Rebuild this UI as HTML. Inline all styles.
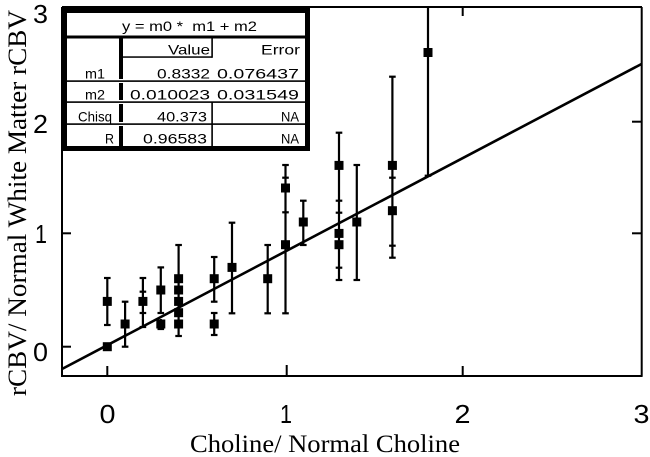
<!DOCTYPE html>
<html>
<head>
<meta charset="utf-8">
<style>
html,body{margin:0;padding:0;background:#fff;}
svg{display:block;}
.sans{font-family:"Liberation Sans",Arial,sans-serif;fill:#000;}
.serif{font-family:"Liberation Serif","Times New Roman",serif;fill:#000;}
</style>
</head>
<body>
<svg width="650" height="457" viewBox="0 0 650 457" xmlns="http://www.w3.org/2000/svg">
<rect width="650" height="457" fill="#fff"/>
<g stroke="#000" stroke-width="2" fill="none">
<line x1="62" y1="7" x2="642" y2="7"/>
<line x1="62" y1="7" x2="62" y2="376.5"/>
<line x1="61" y1="376" x2="642.5" y2="376"/>
<line x1="641.7" y1="7" x2="641.7" y2="376.5"/>
<line x1="62" y1="346.7" x2="71" y2="346.7"/>
<line x1="62" y1="233.3" x2="71" y2="233.3"/>
<line x1="632" y1="233.3" x2="641" y2="233.3"/>
<line x1="632" y1="121.7" x2="641" y2="121.7"/>
<line x1="107.3" y1="366" x2="107.3" y2="376"/>
<line x1="286.7" y1="365" x2="286.7" y2="376"/>
<line x1="462.7" y1="366" x2="462.7" y2="376"/>
<line x1="462.7" y1="7" x2="462.7" y2="16"/>
</g>
<line x1="62" y1="369" x2="641.5" y2="64" stroke="#000" stroke-width="2.6"/>
<g stroke="#000" stroke-width="2.2">
<line x1="107.3" y1="278" x2="107.3" y2="325"/><line x1="104" y1="278" x2="110.6" y2="278"/><line x1="104" y1="325" x2="110.6" y2="325"/>
<line x1="125.1" y1="301.7" x2="125.1" y2="346.7"/><line x1="121.8" y1="301.7" x2="128.4" y2="301.7"/><line x1="121.8" y1="346.7" x2="128.4" y2="346.7"/>
<line x1="142.9" y1="278" x2="142.9" y2="327"/><line x1="139.6" y1="278" x2="146.2" y2="278"/><line x1="139.6" y1="327" x2="146.2" y2="327"/><line x1="139.6" y1="291.7" x2="146.2" y2="291.7"/><line x1="139.6" y1="313" x2="146.2" y2="313"/>
<line x1="160.8" y1="267.4" x2="160.8" y2="313"/><line x1="157.5" y1="267.4" x2="164.1" y2="267.4"/><line x1="157.5" y1="313" x2="164.1" y2="313"/>
<line x1="160.8" y1="319" x2="160.8" y2="329"/><line x1="157.5" y1="329" x2="164.1" y2="329"/>
<line x1="178.6" y1="245" x2="178.6" y2="336"/><line x1="175.3" y1="245" x2="181.9" y2="245"/><line x1="175.3" y1="336" x2="181.9" y2="336"/>
<line x1="214.2" y1="257" x2="214.2" y2="301.7"/><line x1="210.9" y1="257" x2="217.5" y2="257"/><line x1="210.9" y1="301.7" x2="217.5" y2="301.7"/>
<line x1="214.2" y1="313" x2="214.2" y2="335"/><line x1="210.9" y1="313" x2="217.5" y2="313"/><line x1="210.9" y1="335" x2="217.5" y2="335"/>
<line x1="232" y1="222.7" x2="232" y2="313.3"/><line x1="228.7" y1="222.7" x2="235.3" y2="222.7"/><line x1="228.7" y1="313.3" x2="235.3" y2="313.3"/>
<line x1="267.7" y1="245" x2="267.7" y2="313.3"/><line x1="264.4" y1="245" x2="271" y2="245"/><line x1="264.4" y1="313.3" x2="271" y2="313.3"/>
<line x1="285.5" y1="165" x2="285.5" y2="313.3"/><line x1="282.2" y1="165" x2="288.8" y2="165"/><line x1="282.2" y1="313.3" x2="288.8" y2="313.3"/><line x1="282.2" y1="177.7" x2="288.8" y2="177.7"/><line x1="282.2" y1="212.3" x2="288.8" y2="212.3"/>
<line x1="303.3" y1="200.7" x2="303.3" y2="245"/><line x1="300" y1="200.7" x2="306.6" y2="200.7"/><line x1="300" y1="245" x2="306.6" y2="245"/>
<line x1="339" y1="132.7" x2="339" y2="280"/><line x1="335.7" y1="132.7" x2="342.3" y2="132.7"/><line x1="335.7" y1="280" x2="342.3" y2="280"/><line x1="335.7" y1="200.7" x2="342.3" y2="200.7"/><line x1="335.7" y1="212.7" x2="342.3" y2="212.7"/><line x1="335.7" y1="267.7" x2="342.3" y2="267.7"/>
<line x1="356.8" y1="165" x2="356.8" y2="280"/><line x1="353.5" y1="165" x2="360.1" y2="165"/><line x1="353.5" y1="280" x2="360.1" y2="280"/>
<line x1="392.4" y1="76.7" x2="392.4" y2="257.7"/><line x1="389.1" y1="76.7" x2="395.7" y2="76.7"/><line x1="389.1" y1="257.7" x2="395.7" y2="257.7"/><line x1="389.1" y1="177.7" x2="395.7" y2="177.7"/><line x1="389.1" y1="245.7" x2="395.7" y2="245.7"/>
<line x1="428" y1="7" x2="428" y2="175.7"/><line x1="424.7" y1="175.7" x2="431.3" y2="175.7"/>
</g>
<g fill="#000">
<rect x="102.8" y="342.2" width="9" height="9"/>
<rect x="102.8" y="296.9" width="9" height="9"/>
<rect x="120.6" y="319.5" width="9" height="9"/>
<rect x="138.4" y="296.9" width="9" height="9"/>
<rect x="156.3" y="285.5" width="9" height="9"/>
<rect x="156.3" y="319.5" width="9" height="9"/>
<rect x="174.1" y="274.2" width="9" height="9"/>
<rect x="174.1" y="285.5" width="9" height="9"/>
<rect x="174.1" y="296.9" width="9" height="9"/>
<rect x="174.1" y="308.2" width="9" height="9"/>
<rect x="174.1" y="319.5" width="9" height="9"/>
<rect x="209.7" y="274.2" width="9" height="9"/>
<rect x="209.7" y="319.5" width="9" height="9"/>
<rect x="227.5" y="262.9" width="9" height="9"/>
<rect x="263.2" y="274.2" width="9" height="9"/>
<rect x="281" y="240.2" width="9" height="9"/>
<rect x="281" y="183.5" width="9" height="9"/>
<rect x="298.8" y="217.5" width="9" height="9"/>
<rect x="334.5" y="160.9" width="9" height="9"/>
<rect x="334.5" y="228.9" width="9" height="9"/>
<rect x="334.5" y="240.2" width="9" height="9"/>
<rect x="352.3" y="217.5" width="9" height="9"/>
<rect x="387.9" y="160.9" width="9" height="9"/>
<rect x="387.9" y="206.2" width="9" height="9"/>
<rect x="423.5" y="48" width="9" height="9"/>
</g>
<rect x="62" y="8" width="248" height="143" fill="#fff"/>
<g fill="#000">
<rect x="62" y="8" width="5" height="143"/>
<rect x="62" y="8" width="248" height="5"/>
<rect x="305" y="8" width="5" height="143"/>
<rect x="62" y="146" width="248" height="5"/>
<rect x="67" y="35.5" width="238" height="3"/>
<rect x="119" y="38" width="4" height="41"/>
<rect x="119" y="83" width="4" height="17"/>
<rect x="119" y="104" width="4" height="18"/>
<rect x="119" y="126" width="4" height="20"/>
<rect x="67" y="80.3" width="238" height="1.6"/>
<rect x="67" y="101.3" width="238" height="1.6"/>
<rect x="67" y="123.3" width="238" height="1.6"/>
<rect x="123" y="56.3" width="89" height="1.5"/>
<rect x="211.3" y="38" width="1.6" height="19.8"/>
<rect x="211.3" y="102" width="1.6" height="44"/>
</g>
<g class="sans" font-size="14">
<text x="122" y="31" textLength="135" lengthAdjust="spacingAndGlyphs" style="white-space:pre">y = m0 *  m1 + m2</text>
<text x="168" y="54.5" textLength="42" lengthAdjust="spacingAndGlyphs">Value</text>
<text x="261" y="54.5" textLength="39" lengthAdjust="spacingAndGlyphs">Error</text>
<text x="85" y="78.5" textLength="20" lengthAdjust="spacingAndGlyphs">m1</text>
<text x="157" y="78.5" textLength="53" lengthAdjust="spacingAndGlyphs">0.8332</text>
<text x="217" y="78.5" textLength="82" lengthAdjust="spacingAndGlyphs">0.076437</text>
<text x="85" y="99.5" textLength="20" lengthAdjust="spacingAndGlyphs">m2</text>
<text x="130" y="99.5" textLength="80" lengthAdjust="spacingAndGlyphs">0.010023</text>
<text x="217" y="99.5" textLength="82" lengthAdjust="spacingAndGlyphs">0.031549</text>
<text x="78" y="121.5" textLength="34" lengthAdjust="spacingAndGlyphs">Chisq</text>
<text x="157" y="121.5" textLength="50" lengthAdjust="spacingAndGlyphs">40.373</text>
<text x="281" y="121.5" textLength="18" lengthAdjust="spacingAndGlyphs">NA</text>
<text x="105" y="143.5" textLength="9" lengthAdjust="spacingAndGlyphs">R</text>
<text x="143" y="143.5" textLength="64" lengthAdjust="spacingAndGlyphs">0.96583</text>
<text x="281" y="143.5" textLength="18" lengthAdjust="spacingAndGlyphs">NA</text>
</g>
<g class="sans" font-size="26">
<text x="33" y="23" textLength="15" lengthAdjust="spacingAndGlyphs">3</text>
<text x="33" y="133" textLength="15" lengthAdjust="spacingAndGlyphs">2</text>
<text x="35" y="243" textLength="12" lengthAdjust="spacingAndGlyphs">1</text>
<text x="33" y="361" textLength="15" lengthAdjust="spacingAndGlyphs">0</text>
<text x="99.5" y="423" textLength="16" lengthAdjust="spacingAndGlyphs">0</text>
<text x="280" y="423" textLength="12" lengthAdjust="spacingAndGlyphs">1</text>
<text x="454.5" y="423" textLength="16" lengthAdjust="spacingAndGlyphs">2</text>
<text x="633.5" y="423" textLength="16" lengthAdjust="spacingAndGlyphs">3</text>
</g>
<text class="serif" font-size="25" x="190" y="452" textLength="270" lengthAdjust="spacingAndGlyphs">Choline/ Normal Choline</text>
<text class="serif" font-size="26" transform="translate(26,396) rotate(-90)" x="0" y="0" textLength="386" lengthAdjust="spacingAndGlyphs">rCBV/ Normal White Matter rCBV</text>
</svg>
</body>
</html>
